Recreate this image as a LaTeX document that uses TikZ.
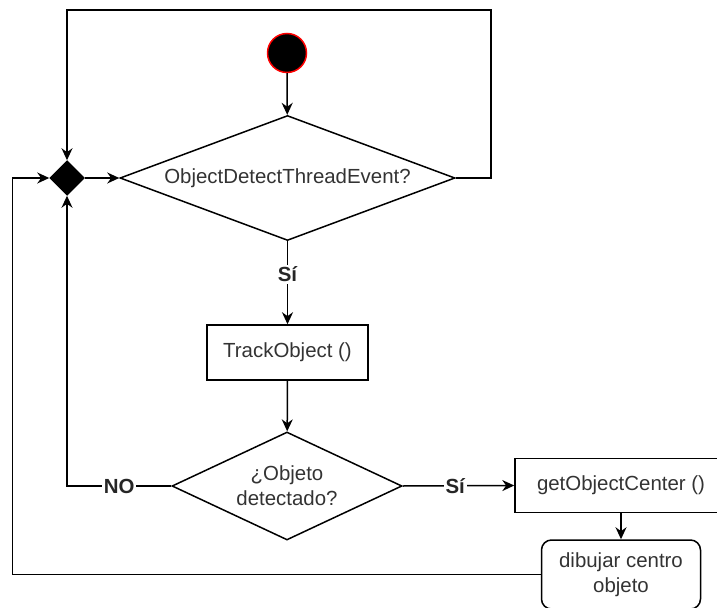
\documentclass[tikz,border=0pt]{standalone}
\usepackage{fontspec}
\setmainfont{Liberation Sans}
\usetikzlibrary{shapes.geometric, arrows.meta, positioning}

\begin{document}
\begin{tikzpicture}[
  x=1bp, y=-1bp,
  font=\fontsize{20.5}{25}\selectfont,
  line width=1.5bp,
  % Box styles
  startdot/.style={circle, draw=red, fill=black, minimum size=39bp, inner sep=0pt},
  decision/.style={diamond, draw, inner sep=0pt, align=center, text=black!80},
  merger/.style={diamond, draw, fill=black, minimum width=34bp,
                 minimum height=34bp, inner sep=0pt},
  process/.style={draw, minimum width=161bp, minimum height=55bp,
                  align=center, text=black!80},
  action/.style={draw, rounded corners=10bp, minimum width=159bp,
                 minimum height=69bp, align=center, text=black!80},
  arrow/.style={-{Stealth[length=12bp, width=11bp]}},
  tag/.style={fill=white, inner sep=2bp, font=\fontsize{20.5}{25}\selectfont\bfseries,
              text=black!85},
]
\useasboundingbox (0,0) rectangle (717,608);
\clip (0,0) rectangle (717,608);

% ---- START + FIRST DECISION ----
\node[startdot] (start) at (287,53) {};
\node[decision, minimum width=335bp, minimum height=125bp, aspect=2.68] (event)
      at (287.5,178) {ObjectDetectThreadEvent?};
\node[merger] (merge) at (67,178) {};

\draw[arrow] (start) -- (event);
\draw[arrow] (merge.east) -- (event.west);
\draw[arrow] (event.east) -- ++(35,0) -- ++(0,-168) -| (merge.north);

% ---- TRACKING ----
\node[process] (track) at (287.5,352.5) {TrackObject ()};
\draw[arrow] (event) -- node[tag, pos=0.4] {Sí} (track);

\node[decision, minimum width=230bp, minimum height=108bp, aspect=2.13] (found)
      at (287,486) {¿Objeto\\detectado?};
\draw[arrow] (track) -- (found);
\draw[arrow] (found.west) -| node[tag, pos=0.25] {NO} (merge.south);

% ---- OBJECT CENTER ----
\node[process, minimum width=212bp, minimum height=54bp] (center) at (621,485.5)
      {getObjectCenter ()};
\draw[arrow] (found.east) -- node[tag, pos=0.47] {Sí} (center.west);

\node[action] (drawc) [below=26bp of center] {dibujar centro\\objeto};
\draw[arrow] (center) -- (drawc);
\draw[arrow] (drawc.west) -- ++(-528,0) |- (merge.west);

\end{tikzpicture}
\end{document}
